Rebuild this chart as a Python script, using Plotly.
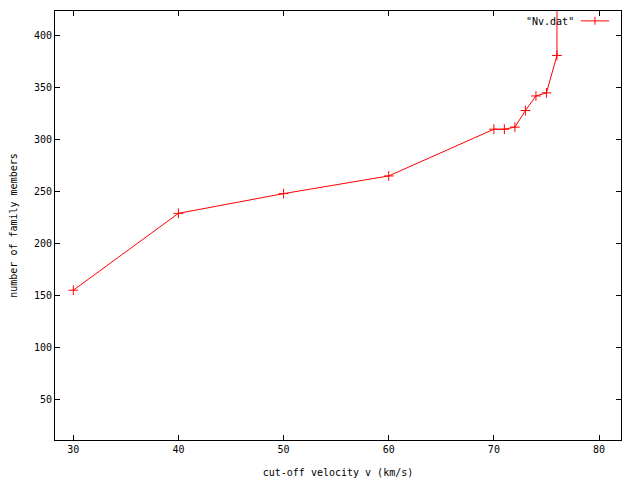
import plotly.graph_objects as go

cutoff_velocity = [30, 40, 50, 60, 70, 71, 72, 73, 74, 75, 76, 76]
family_members = [155, 229, 248, 265, 310, 310, 312, 328, 342, 345, 381, 500]

x_ticks = [30, 40, 50, 60, 70, 80]
y_ticks = [50, 100, 150, 200, 250, 300, 350, 400]

FONT = dict(family="DejaVu Sans Mono", size=10, color="black")

fig = go.Figure()
fig.add_trace(go.Scatter(
    x=cutoff_velocity, y=family_members, mode="lines+markers",
    line=dict(color="red", width=1),
    marker=dict(symbol="cross-thin-open", size=7, color="red",
                line=dict(color="red", width=1)),
    name='"Nv.dat"', showlegend=False, cliponaxis=True,
))

fig.update_layout(
    width=632, height=472,
    margin=dict(l=47, r=19, t=3, b=40),
    paper_bgcolor="white", plot_bgcolor="white",
    font=FONT,
    xaxis=dict(range=[28.26, 82.09], tickvals=x_ticks, ticks="inside", ticklen=5,
               showline=True, linecolor="black", linewidth=1, mirror="ticks",
               showgrid=False, zeroline=False, tickcolor="black", automargin=False,
               title=dict(text="cut-off velocity v (km/s)", font=FONT, standoff=14)),
    yaxis=dict(range=[10.8, 423.8], tickvals=y_ticks, ticks="inside", ticklen=5,
               showline=True, linecolor="black", linewidth=1, mirror="ticks",
               showgrid=False, zeroline=False, tickcolor="black", automargin=False,
               title=dict(text="number of family members", font=FONT, standoff=14)),
)

# gnuplot-style key: label left of the sample
fig.add_annotation(xref="paper", yref="paper", x=0.921, y=0.975,
                   xanchor="right", yanchor="middle", text='"Nv.dat"',
                   showarrow=False, font=FONT)
fig.add_shape(type="line", xref="paper", yref="paper",
              x0=0.929, x1=0.979, y0=0.977, y1=0.977,
              line=dict(color="red", width=1))
fig.add_shape(type="line", xref="paper", yref="paper",
              x0=0.954, x1=0.954, y0=0.968, y1=0.986,
              line=dict(color="red", width=1))

fig.write_html("out.html")
